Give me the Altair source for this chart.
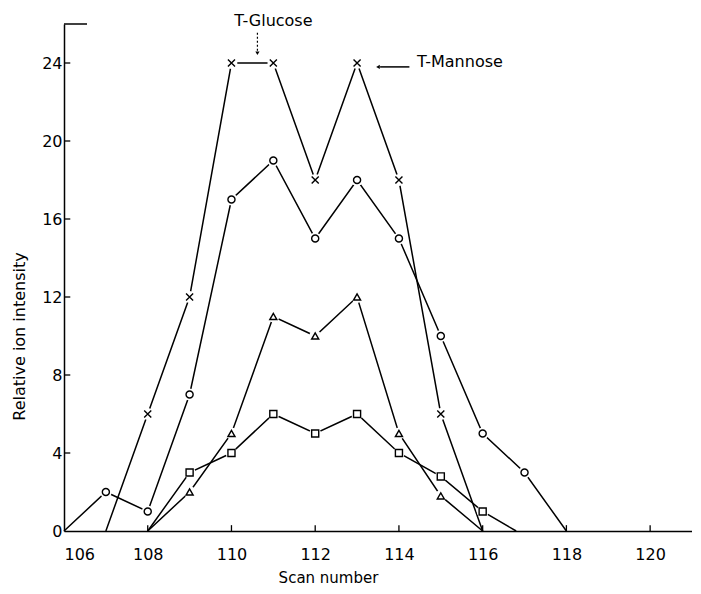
import altair as alt
import pandas as pd

# ---- data ----
scan_cross = [107, 108, 109, 110, 111, 112, 113, 114, 115, 116]
int_cross = [0, 6, 12, 24, 24, 18, 24, 18, 6, 0]

scan_circle = [106, 107, 108, 109, 110, 111, 112, 113, 114, 115, 116, 117, 118]
int_circle = [0, 2, 1, 7, 17, 19, 15, 18, 15, 10, 5, 3, 0]

scan_tri = [108, 109, 110, 111, 112, 113, 114, 115, 116]
int_tri = [0, 2, 5, 11, 10, 12, 5, 1.8, 0]

scan_sq = [108, 109, 110, 111, 112, 113, 114, 115, 116, 116.8]
int_sq = [0, 3, 4, 6, 5, 6, 4, 2.8, 1, 0]

x_ticks = [106, 108, 110, 112, 114, 116, 118, 120]
y_ticks = [0, 4, 8, 12, 16, 20, 24]

ann_text = ["T-Glucose", "T-Mannose"]
ann_x = [111.0, 114.43]
ann_y = [26.15, 24.05]

series_names = ["cross", "circle", "triangle", "square"]
frames = []
for name, xs, ys in [("cross", scan_cross, int_cross), ("circle", scan_circle, int_circle),
                     ("triangle", scan_tri, int_tri), ("square", scan_sq, int_sq)]:
    frames.append(pd.DataFrame({"scan": xs, "intensity": ys, "series": name}))
df = pd.concat(frames, ignore_index=True)
marked = df[df["intensity"] > 0]

FONT = "DejaVu Sans"

xscale = alt.Scale(domain=[106, 121], nice=False, zero=False)
yscale = alt.Scale(domain=[0, 26], nice=False)
shape_scale = alt.Scale(domain=series_names,
                        range=["M-1,-1L1,1M-1,1L1,-1", "circle", "triangle-up", "square"])

xaxis = alt.Axis(values=x_ticks, format="d", tickSize=0, labelPadding=15,
                 labelFontSize=16, labelFont=FONT, labelColor="black",
                 domainColor="black", domainWidth=1.5, grid=False,
                 title="Scan number", titleFont=FONT, titleFontSize=15,
                 titleFontWeight="normal", titleColor="black",
                 titleX=264, titleY=46, titleBaseline="middle")
yaxis = alt.Axis(values=y_ticks, tickSize=0, labelPadding=2,
                 labelFontSize=16, labelFont=FONT, labelColor="black",
                 domainColor="black", domainWidth=1.5, grid=False,
                 title="Relative ion intensity", titleFont=FONT, titleFontSize=16,
                 titleFontWeight="normal", titleColor="black",
                 titleX=-45, titleY=312, titleBaseline="middle")


def X(field):
    return alt.X(field, scale=xscale, axis=xaxis, title="Scan number")


def Y(field):
    return alt.Y(field, scale=yscale, axis=yaxis, title="Relative ion intensity")


lines = alt.Chart(df).mark_line(color="black", strokeWidth=1.5).encode(
    x=X("scan:Q"), y=Y("intensity:Q"), detail="series:N")

gaps = alt.Chart(marked).mark_point(filled=True, color="white", opacity=1, size=140,
                                     shape="circle").encode(
    x=X("scan:Q"), y=Y("intensity:Q"))

markers = alt.Chart(marked).mark_point(filled=False, color="black", strokeWidth=1.4,
                                        opacity=1, size=50).encode(
    x=X("scan:Q"), y=Y("intensity:Q"),
    shape=alt.Shape("series:N", scale=shape_scale, legend=None))

# inward ticks
ytick_df = pd.DataFrame({"v": y_ticks[1:], "x0": 106, "x1": 106.15})
xtick_df = pd.DataFrame({"v": x_ticks[1:], "y0": 0, "y1": 0.3})
yticks = alt.Chart(ytick_df).mark_rule(color="black", strokeWidth=1.3).encode(
    y=Y("v:Q"), x=X("x0:Q"), x2="x1:Q")
xticks = alt.Chart(xtick_df).mark_rule(color="black", strokeWidth=1.3).encode(
    x=X("v:Q"), y=Y("y0:Q"), y2="y1:Q")

# top stub of the frame
stub = alt.Chart(pd.DataFrame({"x0": [106], "x1": [106.55], "y": [26]})).mark_rule(
    color="black", strokeWidth=1.5).encode(x=X("x0:Q"), x2="x1:Q", y=Y("y:Q"))

# annotations
ann_df = pd.DataFrame({"text": ann_text, "x": ann_x, "y": ann_y})
glu_text = alt.Chart(ann_df.iloc[[0]]).mark_text(font=FONT, fontSize=16, align="center",
                                                baseline="middle", color="black").encode(
    x=X("x:Q"), y=Y("y:Q"), text="text:N")
man_text = alt.Chart(ann_df.iloc[[1]]).mark_text(font=FONT, fontSize=16, align="left",
                                                baseline="middle", color="black").encode(
    x=X("x:Q"), y=Y("y:Q"), text="text:N")

glu_arrow = alt.Chart(pd.DataFrame({"x": [110.62], "y0": [25.55], "y1": [24.55]})).mark_rule(
    color="black", strokeWidth=1.2, strokeDash=[2, 2]).encode(
    x=X("x:Q"), y=Y("y0:Q"), y2="y1:Q")
glu_head = alt.Chart(pd.DataFrame({"x": [110.62], "y": [24.5]})).mark_point(
    shape="triangle-down", filled=True, color="black", size=18, opacity=1).encode(
    x=X("x:Q"), y=Y("y:Q"))

man_arrow = alt.Chart(pd.DataFrame({"x0": [114.25], "x1": [113.55], "y": [23.8]})).mark_rule(
    color="black", strokeWidth=1.5).encode(x=X("x0:Q"), x2="x1:Q", y=Y("y:Q"))
man_head = alt.Chart(pd.DataFrame({"x": [113.5], "y": [23.8]})).mark_point(
    shape="triangle-left", filled=True, color="black", size=18, opacity=1).encode(
    x=X("x:Q"), y=Y("y:Q"))

chart = alt.layer(lines, gaps, markers, yticks, xticks, stub,
                  glu_text, man_text, glu_arrow, glu_head, man_arrow, man_head).properties(
    width=628, height=507,
    background="white",
    autosize=alt.AutoSizeParams(type="none"),
    padding={"left": 56, "top": 16, "right": 0, "bottom": 55},
).configure_view(stroke="transparent", strokeWidth=0)

chart.save("out.html", embed_options={"renderer": "svg", "actions": False})
